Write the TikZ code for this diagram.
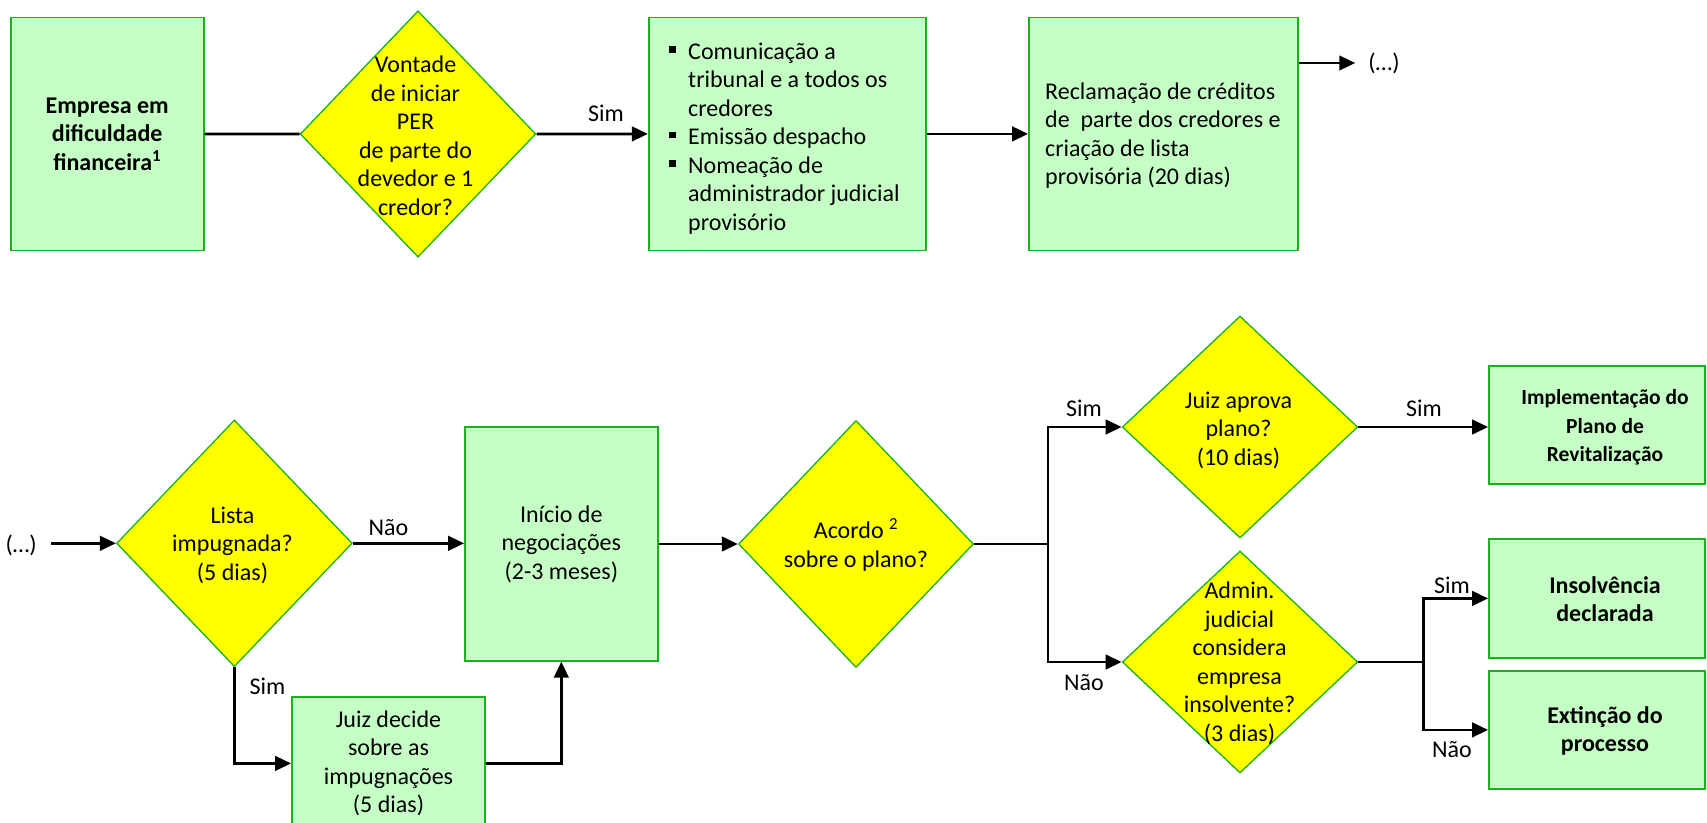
\documentclass[tikz,border=0pt]{standalone}
\usepackage{fontspec}
\setmainfont{Carlito}
\usetikzlibrary{shapes.geometric,arrows.meta}
\definecolor{boxfill}{RGB}{198,255,198}
\definecolor{boxline}{RGB}{26,178,26}
\definecolor{diafill}{RGB}{255,255,0}
\newcommand{\sqbul}{\rule[0.26em]{0.28em}{0.28em}}
\begin{document}
\begin{tikzpicture}[x=1pt,y=-1pt,
  font=\fontsize{24}{28.5}\selectfont,
  box/.style={draw=boxline, fill=boxfill, line width=1.8pt, rectangle, inner sep=0pt, align=center},
  dia/.style={draw=boxline, fill=diafill, line width=1.3pt, diamond, inner sep=0pt},
  txt/.style={inner sep=0pt, align=center},
  bold/.style={font=\fontsize{24}{28.5}\selectfont\bfseries},
  conn/.style={line width=2.8pt},
  arr/.style={conn, -{Triangle[length=16pt,width=14.5pt]}},
  lbl/.style={inner sep=0pt}]
\clip (0,0) rectangle (1707,822);
\fill[white] (0,0) rectangle (1707,822);

% ---- top row ----
\node[box, bold, minimum width=192.9pt, minimum height=233pt] (b1) at (107.2,133.9)
  {Empresa em\\dificuldade\\financeira\textsuperscript{1}};
\node[dia, minimum width=235.7pt, minimum height=246.3pt] (d1) at (418,134) {};
\node[txt] (d1t) at (415.5,135.8) {Vontade\\de iniciar\\PER\\de parte do\\devedor e 1\\credor?};
\node[box, minimum width=277.2pt, minimum height=233pt] (b2) at (787.4,133.9) {};
\node[inner sep=0pt, align=left, anchor=west] (b2t) at (688,138.3)
  {\llap{\sqbul\hspace{12pt}}Comunicação a\\tribunal e a todos os\\credores\\
   \llap{\sqbul\hspace{12pt}}Emissão despacho\\
   \llap{\sqbul\hspace{12pt}}Nomeação de\\administrador judicial\\provisório};
\node[box, minimum width=269pt, minimum height=233pt] (b3) at (1163.5,133.9) {};
\node[inner sep=0pt, align=left, anchor=west] (b3t) at (1045,135.8)
  {Reclamação de créditos\\de\ \ parte dos credores e\\criação de lista\\provisória (20 dias)};
\node[lbl] (dots2) at (1384,63) {(…)};

\draw[conn] (b1.east) -- (d1.west);
\draw[arr] (d1.east) -- (b2.west);
\node[lbl] (simA) at (606,113) {Sim};
\draw[arr] (b2.east) -- (b3.west);
\draw[arr] (b3.east |- dots2.west) -- ([xshift=-13pt]dots2.west);

% ---- bottom row ----
\node[lbl] (dots1) at (21.2,545) {(…)};
\node[dia, minimum width=235.7pt, minimum height=246.7pt] (d2) at (234.4,543.3) {};
\node[txt] (d2t) at (232.5,545) {Lista\\impugnada?\\(5 dias)};
\node[box, minimum width=192.6pt, minimum height=233.4pt] (b4) at (561.3,544)
  {Início de\\negociações\\(2-3 meses)};
\node[box, minimum width=193pt, minimum height=133.4pt] (b5) at (388.5,763.4)
  {Juiz decide\\sobre as\\impugnações\\(5 dias)};
\node[dia, minimum width=235pt, minimum height=247pt] (d3) at (856,544) {};
\node[txt] (d3t) at (856,545) {Acordo \textsuperscript{2}\\sobre o plano?};
\node[dia, minimum width=235.4pt, minimum height=222pt] (d4) at (1240,427) {};
\node[txt] (d4t) at (1238.5,430.3) {Juiz aprova\\plano?\\(10 dias)};
\node[dia, minimum width=235.4pt, minimum height=222pt] (d5) at (1240,662) {};
\node[txt] (d5t) at (1239.5,663.4) {Admin.\\judicial\\considera\\empresa\\insolvente?\\(3 dias)};
\node[box, minimum width=216pt, minimum height=118pt] (b6) at (1597,425) {};
\node[txt, font=\fontsize{21.5}{28.7}\selectfont\bfseries] (b6t) at (1605,427.5) {Implementação do\\Plano de\\Revitalização};
\node[box, minimum width=216pt, minimum height=118.7pt] (b7) at (1597,598.4) {};
\node[txt, bold] (b7t) at (1605,599) {Insolvência\\declarada};
\node[box, minimum width=216pt, minimum height=118.3pt] (b8) at (1597,729.9) {};
\node[txt, bold] (b8t) at (1605,730.8) {Extinção do\\processo};

\coordinate (s1) at (1048,544);
\coordinate (s2) at (1423.8,662);

\draw[arr] ([xshift=14pt]dots1.east |- d2.west) -- (d2.west);
\draw[arr] (d2.east) -- (d2.east -| b4.west);
\node[lbl] (naoA) at (388.4,528) {Não};
\draw[arr] (d2.south) |- (b5.west);
\node[lbl] (simB) at (267.4,686) {Sim};
\draw[arr] (b5.east) -| (b4.south);
\draw[arr] (b4.east) -- (d3.west);
\draw[conn] (d3.east) -- (s1);
\draw[arr] (s1) |- (d4.west);
\draw[arr] (s1) |- (d5.west);
\node[lbl] (simC) at (1084,408) {Sim};
\node[lbl] (naoC) at (1084,683) {Não};
\draw[arr] (d4.east) -- (d4.east -| b6.west);
\node[lbl] (simD) at (1424,408) {Sim};
\draw[conn] (d5.east) -- (s2);
\draw[arr] (s2) |- (b7.west);
\draw[arr] (s2) |- (b8.west);
\node[lbl] (simE) at (1452,585) {Sim};
\node[lbl] (naoE) at (1452,750) {Não};
\end{tikzpicture}
\end{document}
